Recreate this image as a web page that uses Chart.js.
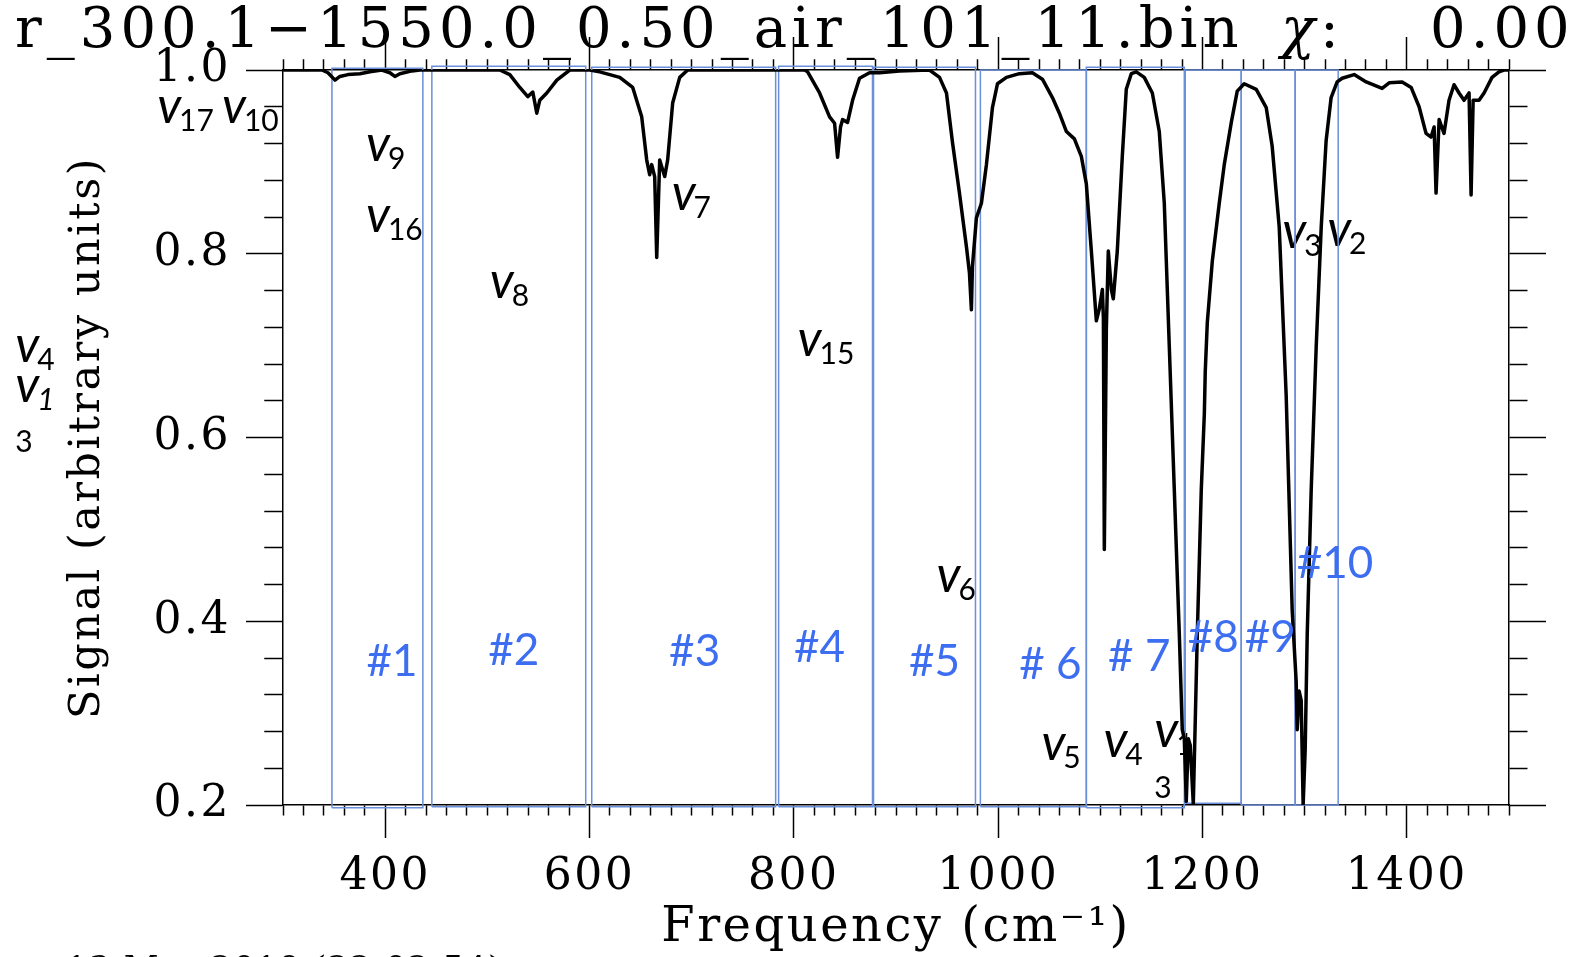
<!DOCTYPE html>
<html>
<head>
<meta charset="utf-8">
<script src="https://cdn.jsdelivr.net/npm/chart.js@4.4.1/dist/chart.umd.min.js"></script>
<style>
html, body { margin: 0; padding: 0; background: #fff; }
canvas { display: block; }
</style>
</head>
<body>
<canvas id="spectrum" width="1570" height="957"></canvas>
<script>
const freq = [
  300.1, 338.1, 344.0, 350.9, 355.7, 363.6, 375.3, 385.1, 396.8, 404.6, 409.5, 414.4, 426.2, 434.0,
  512.2, 522.0, 531.8, 539.6, 544.5, 548.4, 551.3, 558.2, 568.0, 580.7,
  600.2, 610.0, 629.6, 642.3, 651.1, 656.0, 658.9, 660.9, 663.8, 665.8, 668.7, 673.6, 676.5, 681.4, 688.3, 696.1,
  810.5, 813.5, 825.2, 835.0, 839.9, 842.8, 845.7, 847.7, 852.6, 857.5, 864.3, 874.1, 883.9, 903.4,
  932.8, 942.6, 949.4, 955.3, 962.1, 969.0, 971.9, 973.8, 974.8, 978.7,
  983.6, 988.5, 994.4, 999.3, 1008.1, 1020.8, 1033.5, 1043.3, 1053.1, 1059.9,
  1066.8, 1074.6, 1081.4, 1086.3, 1091.2, 1096.1, 1099.0, 1102.0, 1103.0, 1103.9,
  1105.9, 1107.8, 1110.8, 1112.7, 1116.6, 1121.5, 1125.4, 1130.3, 1135.2, 1143.0,
  1150.9, 1157.7, 1162.6, 1167.5, 1172.4, 1177.3, 1180.2, 1182.2, 1184.1, 1186.1,
  1188.0, 1191.0, 1194.9, 1198.8, 1201.8, 1202.7, 1204.7, 1209.6, 1216.4, 1221.3,
  1228.2, 1234.0, 1240.8, 1252.6, 1262.4, 1268.2, 1275.1, 1281.9, 1287.8, 1291.7,
  1292.7, 1294.6, 1296.6, 1298.5, 1300.5, 1302.5, 1306.4, 1311.3, 1316.2, 1321.0,
  1325.9, 1331.8, 1336.7, 1348.4, 1360.2, 1375.8, 1382.7, 1395.4, 1404.2, 1412.0,
  1418.8, 1423.7, 1426.7, 1428.6, 1431.6, 1436.4, 1441.3, 1446.2, 1451.1, 1456.0,
  1460.9, 1462.9, 1464.9, 1470.7, 1475.6, 1483.4, 1490.2, 1495.0, 1500.0
];
const signal = [
  1.0, 1.0, 0.997, 0.989, 0.993, 0.995, 0.996, 0.998, 1.0, 0.997, 0.993, 0.996, 0.999, 1.0,
  1.0, 0.995, 0.981, 0.971, 0.976, 0.953, 0.967, 0.975, 0.989, 1.0,
  1.0, 0.998, 0.992, 0.981, 0.949, 0.902, 0.886, 0.897, 0.884, 0.796, 0.902, 0.884, 0.902, 0.964, 0.992, 1.0,
  1.0, 0.998, 0.975, 0.949, 0.942, 0.905, 0.938, 0.946, 0.943, 0.967, 0.991, 0.997, 0.997, 0.999,
  1.0, 0.992, 0.975, 0.921, 0.866, 0.807, 0.779, 0.739, 0.786, 0.839,
  0.855, 0.897, 0.959, 0.985, 0.992, 0.996, 0.997, 0.990, 0.970, 0.953,
  0.933, 0.925, 0.906, 0.876, 0.803, 0.727, 0.740, 0.761, 0.730, 0.478,
  0.719, 0.803, 0.761, 0.751, 0.803, 0.906, 0.979, 0.996, 0.998, 0.992,
  0.975, 0.933, 0.855, 0.699, 0.543, 0.386, 0.282, 0.272, 0.204, 0.272,
  0.265, 0.201, 0.386, 0.543, 0.626, 0.672, 0.725, 0.792, 0.855, 0.897,
  0.943, 0.977, 0.985, 0.979, 0.959, 0.917, 0.829, 0.646, 0.412, 0.334,
  0.282, 0.324, 0.314, 0.200, 0.260, 0.386, 0.543, 0.699, 0.829, 0.923,
  0.970, 0.987, 0.991, 0.995, 0.987, 0.980, 0.986, 0.987, 0.981, 0.960,
  0.931, 0.927, 0.938, 0.866, 0.946, 0.931, 0.967, 0.984, 0.975, 0.967,
  0.975, 0.864, 0.967, 0.967, 0.975, 0.992, 0.998, 1.0, 1.0
];

// fitting windows (blue boxes)
const windowNames = ['#1', '#2', '#3', '#4', '#5', '# 6', '# 7', '#8', '#9', '#10'];
const windowStart = [347.9, 445.7, 602.2, 785.1, 878.0, 982.6, 1086.3, 1183.1, 1237.9, 1290.7];
const windowEnd = [436.9, 596.3, 782.2, 877.0, 977.8, 1086.3, 1182.2, 1237.9, 1290.7, 1332.8];
const windowTop = [1.002, 1.004, 1.003, 1.004, 1.003, 1.0, 1.003, 1.0, 1.0, 1.0];
const windowBottom = [0.197, 0.198, 0.198, 0.198, 0.198, 0.198, 0.197, 0.202, 0.2, 0.2];
const windowLabelFreq = [406.6, 525.9, 702.9, 825.2, 937.6, 1051.1, 1138.1, 1210.5, 1266.3, 1329.8];
const windowLabelSignal = [0.356, 0.368, 0.367, 0.371, 0.356, 0.353, 0.361, 0.382, 0.382, 0.462];

// band assignments (v + subscript), anchored at left/baseline of the v
const bandSub = ['17', '10', '9', '16', '8', '7', '15', '6', '5', '4', '1', '3', '2', '4', '1'];
const bandSubStyle = ['', '', '', '', '', '', '', '', '', '', '', '', '', '', 'italic '];
const bandFreq = [176.8, 240.3, 381.2, 381.2, 502.4, 680.4, 803.7, 939.6, 1042.3, 1103.0, 1152.8, 1278.0, 1322.0, 37.9, 37.9];
const bandSignal = [0.942, 0.942, 0.901, 0.824, 0.752, 0.848, 0.689, 0.432, 0.249, 0.252, 0.263, 0.806, 0.808, 0.682, 0.639];
const strayText = ['3', '3'];
const strayFreq = [1152.8, 37.9];
const straySignal = [0.208, 0.584];

const xTickLabels = [400, 600, 800, 1000, 1200, 1400];
const yTickLabels = [0.2, 0.4, 0.6, 0.8, 1.0];

const serif = 'DejaVu Serif';
const isMajorX = v => xTickLabels.includes(Math.round(v));
const isMajorY = v => yTickLabels.some(t => Math.abs(t - v) < 1e-6);

// minor ticks are drawn as the first/last part of a long tick via a dash pattern
const minorDash = (len, major) => c => (c.tick && !major(c.tick.value)) ? [len, 2000] : [];
const minorOffset = (off, major) => c => (c.tick && !major(c.tick.value)) ? off : 0;

const textLayer = {
  id: 'textLayer',
  beforeDraw(chart) {
    chart.ctx.letterSpacing = '2.5px';
  },
  beforeDatasetsDraw(chart) {
    const {ctx, scales: {x, y}} = chart;
    ctx.save();
    ctx.letterSpacing = '0px';
    ctx.fillStyle = '#000';
    ctx.textAlign = 'left';
    ctx.textBaseline = 'alphabetic';
    bandSub.forEach((sub, i) => {
      const px = x.getPixelForValue(bandFreq[i]);
      const py = y.getPixelForValue(bandSignal[i]);
      ctx.font = 'italic 50px Lato';
      ctx.fillText('v', px, py);
      const w = ctx.measureText('v').width;
      ctx.font = bandSubStyle[i] + '30px Lato';
      ctx.fillText(sub, px + w - 2, py + 8);
    });
    ctx.font = '30px Lato';
    strayText.forEach((t, i) => {
      ctx.fillText(t, x.getPixelForValue(strayFreq[i]), y.getPixelForValue(straySignal[i]));
    });
    ctx.restore();
  },
  afterDatasetsDraw(chart) {
    const {ctx, scales: {x, y}} = chart;
    ctx.save();
    ctx.letterSpacing = '0px';
    ctx.fillStyle = '#3d6df0';
    ctx.font = '44px Lato';
    ctx.textAlign = 'center';
    ctx.textBaseline = 'middle';
    windowNames.forEach((name, i) => {
      ctx.fillText(name, x.getPixelForValue(windowLabelFreq[i]), y.getPixelForValue(windowLabelSignal[i]));
    });
    ctx.restore();
  },
  afterDraw(chart) {
    const ctx = chart.ctx;
    ctx.save();
    ctx.fillStyle = '#000';
    ctx.textAlign = 'left';
    ctx.textBaseline = 'alphabetic';
    ctx.letterSpacing = '5px';
    ctx.font = `56px "${serif}"`;
    ctx.fillText('r_300.1\u22121550.0_0.50_air_101_11.bin', 15, 47);
    ctx.font = `italic 56px "${serif}"`;
    ctx.fillText('\u03c7', 1281, 47);
    const cw = ctx.measureText('\u03c7').width;
    ctx.font = `56px "${serif}"`;
    ctx.fillText(':', 1281 + cw, 47);
    ctx.fillText('0.00', 1430, 47);
    ctx.letterSpacing = '1px';
    ctx.font = `34px "${serif}"`;
    ctx.fillText('13-Mar-2019 (22:02:54)', 66, 980);
    ctx.restore();
    ctx.letterSpacing = '0px';
  }
};

const datasets = [{
  label: 'signal',
  data: freq.map((f, i) => ({x: f, y: signal[i]})),
  borderColor: '#000',
  borderWidth: 3.5,
  borderJoinStyle: 'round',
  pointRadius: 0,
  tension: 0,
  fill: false
}].concat(windowStart.map((lo, i) => ({
  label: windowNames[i],
  data: [
    {x: lo, y: windowBottom[i]}, {x: lo, y: windowTop[i]},
    {x: windowEnd[i], y: windowTop[i]}, {x: windowEnd[i], y: windowBottom[i]},
    {x: lo, y: windowBottom[i]}
  ],
  borderColor: '#6b8fd9',
  borderWidth: 1.5,
  pointRadius: 0,
  tension: 0,
  fill: false,
  clip: false
})));

const tickFont = {family: serif, size: 44};

new Chart(document.getElementById('spectrum'), {
  type: 'line',
  data: {datasets},
  plugins: [textLayer],
  options: {
    responsive: false,
    devicePixelRatio: 1,
    animation: false,
    events: [],
    layout: {padding: 0},
    plugins: {legend: {display: false}, tooltip: {enabled: false}},
    scales: {
      x: {
        type: 'linear', position: 'bottom', min: 300, max: 1500,
        afterFit: s => { s.height = 152; },
        border: {color: '#000', width: 1.5},
        grid: {
          drawOnChartArea: false, tickLength: 33, tickWidth: 1.5, tickColor: '#000',
          tickBorderDash: minorDash(10, isMajorX)
        },
        ticks: {
          stepSize: 20, autoSkip: false, maxRotation: 0, padding: 13, color: '#000', font: tickFont,
          callback: v => isMajorX(v) ? String(Math.round(v)) : ''
        },
        title: {
          display: true, text: 'Frequency (cm\u207b\u00b9)', color: '#000',
          font: {family: serif, size: 48, lineHeight: 1}, padding: {top: 0, bottom: 4}
        }
      },
      x2: {
        type: 'linear', position: 'top', min: 300, max: 1500,
        afterFit: s => { s.height = 70; },
        border: {color: '#000', width: 1.5},
        grid: {
          drawOnChartArea: false, tickLength: 33, tickWidth: 1.5, tickColor: '#000',
          tickBorderDash: minorDash(10, isMajorX),
          tickBorderDashOffset: minorOffset(-22.25, isMajorX)
        },
        ticks: {stepSize: 20, display: false}
      },
      y: {
        type: 'linear', position: 'left', min: 0.2, max: 1.0,
        afterFit: s => { s.width = 283; },
        border: {color: '#000', width: 1.5},
        grid: {
          drawOnChartArea: false, tickLength: 37, tickWidth: 1.5, tickColor: '#000',
          tickBorderDash: minorDash(18, isMajorY),
          tickBorderDashOffset: minorOffset(-18.25, isMajorY)
        },
        ticks: {
          stepSize: 0.04, autoSkip: false, padding: 15, color: '#000', font: tickFont,
          callback: v => isMajorY(v) ? v.toFixed(1) : ''
        },
        title: {
          display: true, text: 'Signal (arbitrary units)', color: '#000',
          font: {family: serif, size: 43, lineHeight: 1}, padding: {top: 66, bottom: 0}
        }
      },
      y2: {
        type: 'linear', position: 'right', min: 0.2, max: 1.0,
        afterFit: s => { s.width = 61; },
        border: {color: '#000', width: 1.5},
        grid: {
          drawOnChartArea: false, tickLength: 37, tickWidth: 1.5, tickColor: '#000',
          tickBorderDash: minorDash(18, isMajorY)
        },
        ticks: {stepSize: 0.04, display: false}
      }
    }
  }
});
</script>
</body>
</html>
